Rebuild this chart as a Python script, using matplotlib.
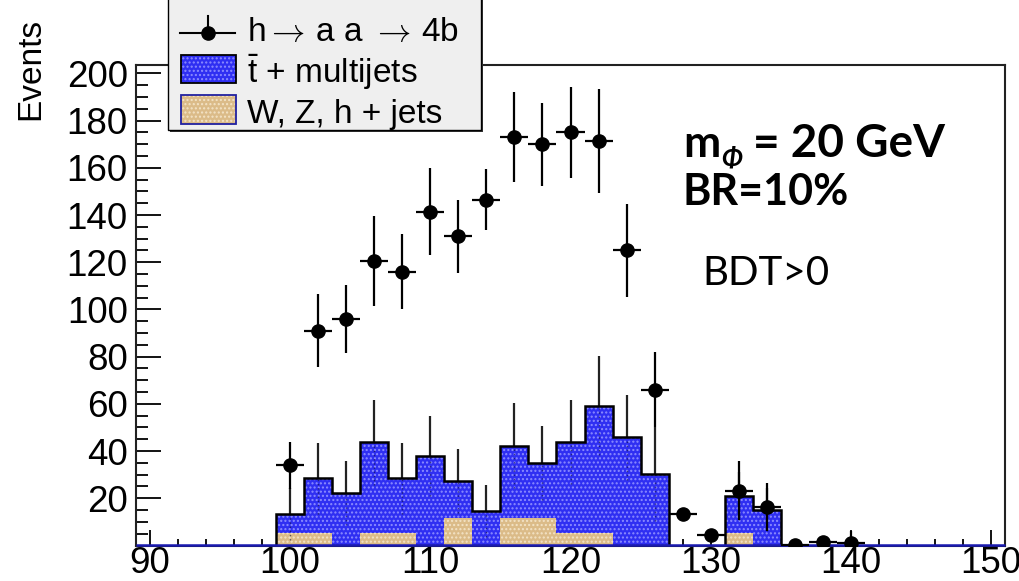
import numpy as np
import matplotlib
matplotlib.use("Agg")
import matplotlib.pyplot as plt
from matplotlib.ticker import MultipleLocator, FixedLocator
from matplotlib.patches import Rectangle
from matplotlib.lines import Line2D

# ---------------- data ----------------
# signal (h -> aa -> 4b) points, bin centres in GeV
sig_mass = [100, 102, 104, 106, 108, 110, 112, 114, 116, 118, 120,
            122, 124, 126, 128, 130, 132, 134, 136, 138, 140]
sig_events = [34, 91, 96, 120.5, 116, 141.5, 131, 146.5, 173, 170, 175,
              171.5, 125, 66, 13.3, 4.3, 23.3, 16.3, 0.3, 1.5, 1.0]
sig_err = [10, 15.5, 14.3, 19, 16, 18.4, 15.4, 13, 19, 17.5, 19.3,
           22, 19.5, 16, 2.5, 2, 12.6, 10, 0.5, 1.5, 5.2]

# background histograms, bins of width 2 GeV from 99 to 135
bkg_edges = [99, 101, 103, 105, 107, 109, 111, 113, 115, 117, 119,
             121, 123, 125, 127, 129, 131, 133, 135]
wzh_jets = [5.4, 5.4, 0, 5.4, 5.4, 0, 11.8, 0, 11.8, 11.8, 5.1,
            5.1, 0, 0, 0, 0, 5.3, 0]
ttbar_multijets = [7.9, 23.1, 22.4, 38.4, 23.1, 37.9, 15.6, 14.7, 30.5, 23.1, 38.9,
                   54.2, 45.8, 30.2, 0, 0, 15.7, 15.2]
bkg_err = [11, 15, 13.6, 18, 15, 17, 13.6, 11, 18, 15.6, 17.8,
           21, 18, 20, 0, 0, 10, 9]

x_range = (89, 151)
y_range = (0, 203.6)
x_major = [90, 100, 110, 120, 130, 140, 150]
y_major = [20, 40, 60, 80, 100, 120, 140, 160, 180, 200]

# ---------------- figure ----------------
W, H = 1020, 581
fig = plt.figure(figsize=(W / 100, H / 100), dpi=100)

def fx(x):
    return x / W

def fy(y):
    return 1 - y / H

ax = fig.add_axes([fx(136), fy(545.5), fx(1005) - fx(136), fy(65) - fy(545.5)])
ax.set_xlim(*x_range)
ax.set_ylim(*y_range)

BLUE = "#2f2ff2"
BLUE_DOT = "#8c8cff"
TAN = "#dbbb88"
TAN_DOT = "#f3e3c6"
LABEL_FONT = ["Liberation Sans", "DejaVu Sans"]

edges = np.array(bkg_edges, dtype=float)
wzh = np.array(wzh_jets, dtype=float)
total = wzh + np.array(ttbar_multijets, dtype=float)
centers = 0.5 * (edges[:-1] + edges[1:])

plt.rcParams["hatch.linewidth"] = 1.0

# stacked fills
ax.stairs(total, edges, fill=True, facecolor=BLUE, edgecolor=BLUE_DOT,
          linewidth=0, hatch="....", zorder=2)
ax.stairs(wzh, edges, fill=True, facecolor=TAN, edgecolor=TAN_DOT,
          linewidth=0, hatch="....", zorder=3)

# background error bars (upper part visible, lower part shows faintly through fill)
for c, t, e in zip(centers, total, bkg_err):
    if e > 0:
        ax.plot([c, c], [t, t + e], color="#222222", lw=1.6, zorder=4,
                solid_capstyle="butt")
        ax.plot([c, c], [max(t - e, 0), t], color="#111133", lw=1.0,
                ls=(0, (1, 2)), alpha=0.6, zorder=4)

# outline of stack
ax.stairs(total, edges, baseline=0, color="black", linewidth=1.8, zorder=5)
# blue baseline along the whole axis
ax.plot(list(x_range), [0.3, 0.3], color="#1a1ab0", lw=1.8, zorder=6,
        solid_capstyle="butt", clip_on=False)

# signal points
ax.errorbar(sig_mass, sig_events, yerr=sig_err, xerr=1, fmt="o",
            color="black", ms=9.5, elinewidth=1.6, capsize=0, zorder=7)

# axes styling
for s in ax.spines.values():
    s.set_linewidth(1.5)
    s.set_color("#222222")
ax.xaxis.set_major_locator(FixedLocator(x_major))
ax.xaxis.set_minor_locator(MultipleLocator(2))
ax.yaxis.set_major_locator(FixedLocator(y_major))
ax.yaxis.set_minor_locator(MultipleLocator(5))
ax.tick_params(axis="x", which="major", direction="in", length=11.5, width=1.3,
               pad=0.5, labelsize=26.5, top=False)
ax.tick_params(axis="x", which="minor", direction="in", length=5, width=1.3, top=False)
ax.tick_params(axis="y", which="major", direction="in", length=18, width=1.3,
               pad=6, labelsize=26.5, right=False)
ax.tick_params(axis="y", which="minor", direction="in", length=8.5, width=1.3, right=False)
for lab in ax.get_xticklabels() + ax.get_yticklabels():
    lab.set_family(LABEL_FONT)

fig.text(fx(31), fy(18), "Events", rotation=90, ha="center", va="top",
         fontsize=24, family=LABEL_FONT)

# ---------------- legend (drawn in figure pixels) ----------------
def frect(x0, y0, x1, y1, **kw):
    return Rectangle((fx(x0), fy(y1)), fx(x1) - fx(x0), fy(y0) - fy(y1),
                     transform=fig.transFigure, **kw)

fig.patches.append(frect(170, -5, 483, 132, facecolor="#333333", edgecolor="none", zorder=10))
fig.patches.append(frect(168, -5, 481, 130, facecolor="#efefef", edgecolor="black",
                         linewidth=1.0, zorder=11))
# row 1: marker
fig.lines.append(Line2D([fx(180), fx(235)], [fy(32.5), fy(32.5)], transform=fig.transFigure,
                        color="black", lw=1.5, zorder=12))
fig.lines.append(Line2D([fx(208), fx(208)], [fy(16), fy(39)], transform=fig.transFigure,
                        color="black", lw=1.5, zorder=12))
fig.lines.append(Line2D([fx(208)], [fy(32.5)], transform=fig.transFigure, marker="o",
                        color="black", ms=9.5, zorder=13))
fig.text(fx(247), fy(41.5), r"h$\rightarrow\,$a a $\rightarrow\,$4b", ha="left",
         va="baseline", fontsize=24, family=LABEL_FONT, zorder=13,
         math_fontfamily="cm")
# row 2: ttbar + multijets
fig.patches.append(frect(181, 55, 236, 83, facecolor=BLUE, edgecolor=BLUE_DOT, hatch="....",
                         linewidth=0, zorder=12))
fig.patches.append(frect(181, 55, 236, 83, facecolor="none", edgecolor="black",
                         linewidth=1.3, zorder=13))
plt.rcParams["mathtext.rm"] = "Liberation Sans"
plt.rcParams["mathtext.it"] = "Liberation Sans"
fig.text(fx(247), fy(83), r"$\bar{\mathrm{t}}$ + multijets", ha="left", va="baseline",
         fontsize=24, family=LABEL_FONT, zorder=13, math_fontfamily="custom")
# row 3: W, Z, h + jets
fig.patches.append(frect(181, 95, 236, 124, facecolor=TAN, edgecolor=TAN_DOT, hatch="....",
                         linewidth=0, zorder=12))
fig.patches.append(frect(181, 95, 236, 124, facecolor="none", edgecolor="#2020a0",
                         linewidth=1.3, zorder=13))
fig.text(fx(247), fy(123), "W, Z, h + jets", ha="left", va="baseline",
         fontsize=24, family=LABEL_FONT, zorder=13)

# ---------------- annotations ----------------
ANN = ["Lato", "DejaVu Sans"]
renderer = fig.canvas.get_renderer()
t_m = fig.text(fx(683), fy(157), "m", ha="left", va="baseline", fontsize=32,
               fontweight="bold", family=ANN)
m_right = t_m.get_window_extent(renderer).x1
t_phi = fig.text(m_right / W + fx(1), fy(166), "\u03a6", ha="left", va="baseline",
                 fontsize=19, fontweight="bold", fontstyle="italic", family=ANN)
phi_right = t_phi.get_window_extent(renderer).x1
fig.text(phi_right / W + fx(11), fy(157), "= 20 GeV", ha="left", va="baseline",
         fontsize=33, fontweight="bold", family=ANN)
fig.text(fx(683), fy(205), "BR=10%", ha="left", va="baseline", fontsize=31,
         fontweight="bold", family=ANN)
fig.text(fx(702), fy(285), "BDT>0", ha="left", va="baseline", fontsize=29,
         family=ANN)

fig.savefig("out.png", dpi=100)
